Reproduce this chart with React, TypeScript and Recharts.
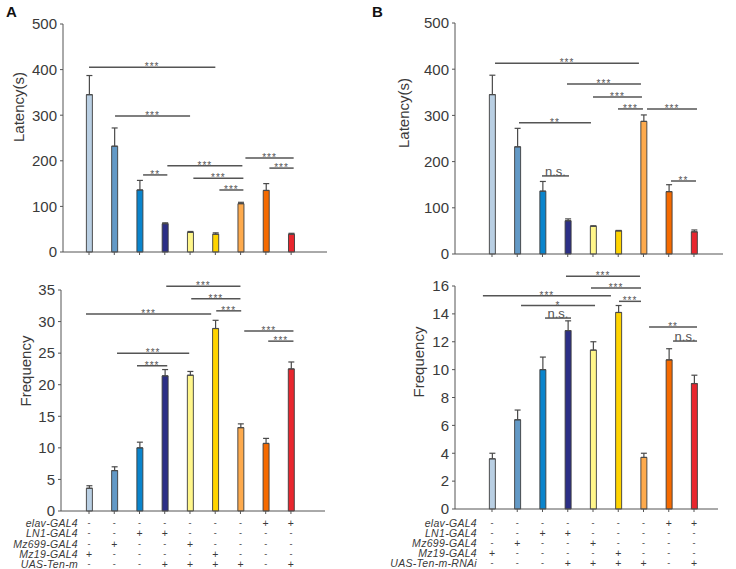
import { Bar, BarChart, Cell, ErrorBar, ReferenceLine, XAxis, YAxis } from "recharts";

// genotype index 0..8, one bar each
const genotypes = [0, 1, 2, 3, 4, 5, 6, 7, 8];
const barColors = ["#b9cfe3", "#6399c6", "#0a84cc", "#2c2f86", "#fff68a", "#ffd400", "#fdaa4d", "#f56a00", "#e8262e"];

const latencyA = [345, 232, 136, 62, 43, 39, 106, 135, 39];
const latencyAErr = [42, 40, 21, 2, 2, 3, 3, 15, 2];
const freqA = [3.6, 6.4, 10.0, 21.4, 21.5, 28.9, 13.2, 10.7, 22.5];
const freqAErr = [0.4, 0.6, 0.9, 1.0, 0.6, 1.3, 0.6, 0.8, 1.1];

const latencyB = [345, 232, 136, 72, 60, 50, 287, 135, 48];
const latencyBErr = [42, 40, 21, 4, 1, 1, 14, 15, 4];
const freqB = [3.6, 6.4, 10.0, 12.8, 11.4, 14.1, 3.7, 10.7, 9.0];
const freqBErr = [0.4, 0.7, 0.9, 0.7, 0.6, 0.5, 0.3, 0.8, 0.6];

const latencyTicks = [0, 100, 200, 300, 400, 500];
const freqATicks = [0, 5, 10, 15, 20, 25, 30, 35];
const freqBTicks = [0, 2, 4, 6, 8, 10, 12, 14, 16];

const rowLabelsA = ["elav-GAL4", "LN1-GAL4", "Mz699-GAL4", "Mz19-GAL4", "UAS-Ten-m"];
const rowLabelsB = ["elav-GAL4", "LN1-GAL4", "Mz699-GAL4", "Mz19-GAL4", "UAS-Ten-m-RNAi"];
const genotypeRows = [
  ["-", "-", "-", "-", "-", "-", "-", "+", "+"],
  ["-", "-", "+", "+", "-", "-", "-", "-", "-"],
  ["-", "+", "-", "-", "+", "-", "-", "-", "-"],
  ["+", "-", "-", "-", "-", "+", "-", "-", "-"],
  ["-", "-", "-", "+", "+", "+", "+", "-", "+"],
];

type Bracket = { from: number; to: number; y: number; text: string };

const bracketsLatA: Bracket[] = [
  { from: 0, to: 5, y: 405, text: "***" },
  { from: 1.03, to: 4, y: 298, text: "***" },
  { from: 2.14, to: 3.1, y: 169, text: "**" },
  { from: 3.1, to: 6.07, y: 189, text: "***" },
  { from: 4.13, to: 6.11, y: 162, text: "***" },
  { from: 5.16, to: 6.11, y: 136, text: "***" },
  { from: 6.19, to: 8.1, y: 206, text: "***" },
  { from: 7.14, to: 8.1, y: 184, text: "***" },
];
const bracketsFreqA: Bracket[] = [
  { from: 3.06, to: 6.0, y: 35.6, text: "***" },
  { from: 4.05, to: 6.0, y: 33.6, text: "***" },
  { from: -0.12, to: 4.84, y: 31.2, text: "***" },
  { from: 5.04, to: 6.03, y: 31.7, text: "***" },
  { from: 1.11, to: 3.97, y: 25.0, text: "***" },
  { from: 1.9, to: 3.1, y: 23.0, text: "***" },
  { from: 6.15, to: 8.1, y: 28.5, text: "***" },
  { from: 7.1, to: 8.1, y: 26.9, text: "***" },
];
const bracketsLatB: Bracket[] = [
  { from: 0.12, to: 5.82, y: 413, text: "***" },
  { from: 2.97, to: 5.9, y: 368, text: "***" },
  { from: 4.0, to: 5.94, y: 340, text: "***" },
  { from: 4.99, to: 5.98, y: 314, text: "***" },
  { from: 6.14, to: 8.12, y: 314, text: "***" },
  { from: 1.07, to: 3.92, y: 284, text: "**" },
  { from: 1.98, to: 3.05, y: 169, text: "n.s." },
  { from: 7.09, to: 8.08, y: 158, text: "**" },
];
const bracketsFreqB: Bracket[] = [
  { from: 2.93, to: 5.86, y: 16.7, text: "***" },
  { from: 3.92, to: 5.9, y: 15.85, text: "***" },
  { from: -0.36, to: 4.71, y: 15.3, text: "***" },
  { from: 5.03, to: 5.9, y: 14.9, text: "***" },
  { from: 1.15, to: 4.08, y: 14.6, text: "*" },
  { from: 2.1, to: 3.13, y: 13.7, text: "n.s." },
  { from: 6.22, to: 8.12, y: 13.06, text: "**" },
  { from: 7.17, to: 8.12, y: 12.05, text: "n.s." },
];

const font = "'Liberation Sans', Arial, sans-serif";
const axisColor = "#555";
const textColor = "#3a3a3a";

type PanelProps = {
  left: number;
  top: number;
  width: number;
  height: number;
  margin: { top: number; right: number; bottom: number; left: number };
  yAxisWidth: number;
  xAxisHeight: number;
  xDomain: [number, number];
  yDomain: [number, number];
  yTicks: number[];
  values: number[];
  errors: number[];
  brackets: Bracket[];
  title: string;
  titleX: number;
  titleY: number;
  rowLabels?: string[];
  rowLabelRight?: number;
  rowOffsets?: number[];
};

function Panel(p: PanelProps) {
  const data = genotypes.map((g, i) => ({ x: g, v: p.values[i], err: [0, p.errors[i]] }));

  const renderTick = (props: any) => {
    const { x, y, payload } = props;
    const idx = genotypes.indexOf(payload.value);
    if (!p.rowLabels || idx < 0) return <g />;
    const base = y - 3;
    return (
      <g>
        {genotypeRows.map((row, r) => (
          <text
            key={r}
            x={x}
            y={base + p.rowOffsets![r]}
            textAnchor="middle"
            dominantBaseline="central"
            fontSize={row[idx] === "-" ? 9 : 10.5}
            fill={textColor}
            fontFamily={font}
          >
            {row[idx]}
          </text>
        ))}
        {idx === 0 &&
          p.rowLabels.map((label, r) => (
            <text
              key={"l" + r}
              x={x - p.rowLabelRight!}
              y={base + p.rowOffsets![r]}
              textAnchor="end"
              dominantBaseline="central"
              fontSize={10.5}
              fontStyle="italic"
              letterSpacing={0.3}
              fill={textColor}
              fontFamily={font}
            >
              {label}
            </text>
          ))}
      </g>
    );
  };

  return (
    <div style={{ position: "absolute", left: p.left, top: p.top }}>
      <BarChart width={p.width} height={p.height} data={data} margin={p.margin}>
        <XAxis
          type="number"
          dataKey="x"
          domain={p.xDomain}
          ticks={genotypes}
          interval={0}
          allowDataOverflow
          height={p.xAxisHeight}
          tickSize={3}
          tickMargin={0}
          stroke={axisColor}
          tick={renderTick}
        />
        <YAxis
          type="number"
          domain={p.yDomain}
          ticks={p.yTicks}
          width={p.yAxisWidth}
          tickSize={3}
          tickMargin={3}
          stroke={axisColor}
          tick={{ fontSize: 15, fill: textColor, fontFamily: font }}
          label={{
            content: () => (
              <text
                x={p.titleX}
                y={p.titleY}
                transform={`rotate(-90, ${p.titleX}, ${p.titleY})`}
                textAnchor="middle"
                dominantBaseline="central"
                fontSize={15}
                fill={textColor}
                fontFamily={font}
              >
                {p.title}
              </text>
            ),
          }}
        />
        <Bar dataKey="v" barSize={6} stroke="#3c3c3c" strokeWidth={0.9} isAnimationActive={false}>
          {data.map((_, i) => (
            <Cell key={i} fill={barColors[i]} />
          ))}
          <ErrorBar dataKey="err" direction="y" width={3} stroke="#4a4a4a" strokeWidth={1.2} isAnimationActive={false} />
        </Bar>
        {p.brackets.map((b, i) => (
          <ReferenceLine
            key={i}
            segment={[
              { x: b.from, y: b.y },
              { x: b.to, y: b.y },
            ]}
            stroke="#555"
            strokeWidth={1.5}
            ifOverflow="visible"
            label={{
              value: b.text,
              position: "top",
              offset: b.text === "n.s." ? 0 : -3,
              fontSize: b.text === "n.s." ? 13 : 10,
              fill: "#555",
              fontFamily: font,
              letterSpacing: b.text === "n.s." ? 0 : 1,
            }}
          />
        ))}
      </BarChart>
    </div>
  );
}

export default function App() {
  return (
    <div style={{ position: "absolute", left: 0, top: 0, width: 736, height: 569, background: "#fff", fontFamily: font }}>
      <Panel
        left={0}
        top={0}
        width={345}
        height={270}
        margin={{ top: 24, right: 18, bottom: 0, left: 20 }}
        yAxisWidth={43}
        xAxisHeight={18}
        xDomain={[-1.03, 9.42]}
        yDomain={[0, 500]}
        yTicks={latencyTicks}
        values={latencyA}
        errors={latencyAErr}
        brackets={bracketsLatA}
        title="Latency(s)"
        titleX={18}
        titleY={107}
      />
      <Panel
        left={0}
        top={262}
        width={345}
        height={307}
        margin={{ top: 28, right: 20, bottom: 0, left: 20 }}
        yAxisWidth={41}
        xAxisHeight={58}
        xDomain={[-1.11, 9.35]}
        yDomain={[0, 35]}
        yTicks={freqATicks}
        values={freqA}
        errors={freqAErr}
        brackets={bracketsFreqA}
        title="Frequency"
        titleX={25}
        titleY={109}
        rowLabels={rowLabelsA}
        rowLabelRight={11}
        rowOffsets={[12, 22.3, 32.6, 42.9, 53]}
      />
      <Panel
        left={368}
        top={0}
        width={368}
        height={272}
        margin={{ top: 23, right: 13, bottom: 0, left: 44 }}
        yAxisWidth={43}
        xAxisHeight={18}
        xDomain={[-1.465, 9.15]}
        yDomain={[0, 500]}
        yTicks={latencyTicks}
        values={latencyB}
        errors={latencyBErr}
        brackets={bracketsLatB}
        title="Latency(s)"
        titleX={35}
        titleY={113}
      />
      <Panel
        left={368}
        top={262}
        width={368}
        height={307}
        margin={{ top: 24, right: 18, bottom: 0, left: 44 }}
        yAxisWidth={43}
        xAxisHeight={60}
        xDomain={[-1.465, 8.95]}
        yDomain={[0, 16]}
        yTicks={freqBTicks}
        values={freqB}
        errors={freqBErr}
        brackets={bracketsFreqB}
        title="Frequency"
        titleX={50}
        titleY={100}
        rowLabels={rowLabelsB}
        rowLabelRight={15}
        rowOffsets={[14, 24, 34, 44, 53.5]}
      />
      <div style={{ position: "absolute", left: 6, top: 3, fontSize: 15, fontWeight: "bold", color: "#111" }}>A</div>
      <div style={{ position: "absolute", left: 372, top: 3, fontSize: 15, fontWeight: "bold", color: "#111" }}>B</div>
    </div>
  );
}
